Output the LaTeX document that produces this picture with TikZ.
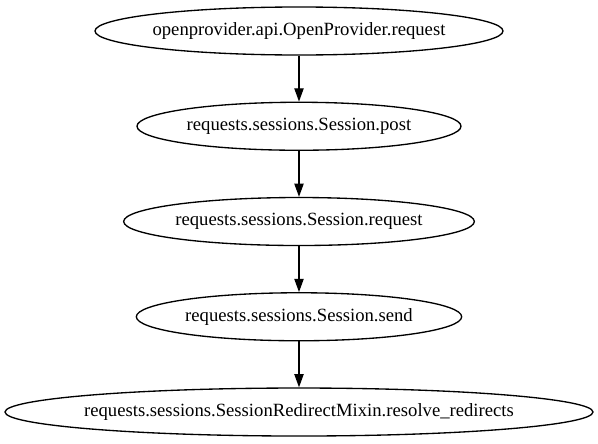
\documentclass[tikz,border=0pt]{standalone}
\usepackage{fontspec}
\setmainfont{Liberation Serif}
\usepackage{tikz}
\usetikzlibrary{shapes.geometric,arrows.meta,positioning}
\tikzset{
  call/.style={ellipse,draw=black,line width=1pt,inner xsep=-60pt,inner ysep=0pt,
               minimum height=36pt,font=\rmfamily\fontsize{14pt}{16pt}\selectfont},
  edge/.style={-{Triangle[length=10pt,width=7pt]},line width=1pt,draw=black},
}
\begin{document}
\begin{tikzpicture}[node distance=71.44pt,on grid]
\useasboundingbox (-224.25pt,23.25pt) rectangle (224.25pt,-309pt);
\node[call,minimum width=306pt] (opreq) at (0,0) {openprovider.api.OpenProvider.request};
\node[call,minimum width=243pt,below=of opreq] (post) {requests.sessions.Session.post};
\node[call,minimum width=263pt,below=of post] (sreq) {requests.sessions.Session.request};
\node[call,minimum width=244pt,below=of sreq] (send) {requests.sessions.Session.send};
\node[call,minimum width=441pt,below=of send] (redir) {requests.sessions.SessionRedirectMixin.resolve\_redirects};
\draw[edge] (opreq) -- (post);
\draw[edge] (post) -- (sreq);
\draw[edge] (sreq) -- (send);
\draw[edge] (send) -- (redir);
\end{tikzpicture}
\end{document}
